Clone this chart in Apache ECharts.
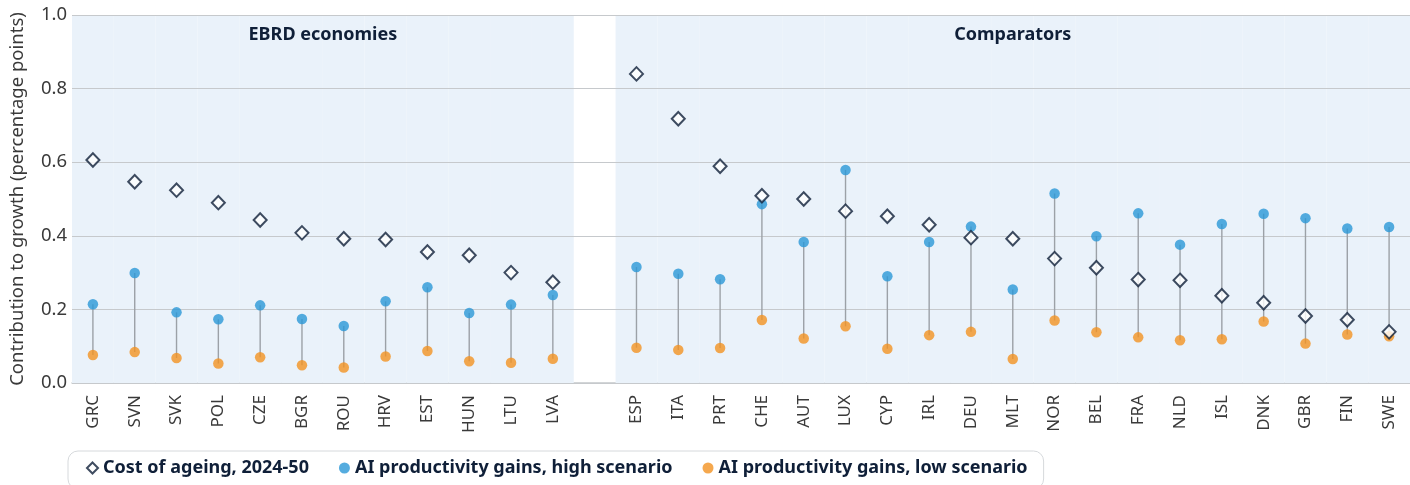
<!DOCTYPE html>
<html>
<head>
<meta charset="utf-8">
<title>Cost of ageing vs AI productivity gains</title>
<script src="https://cdn.jsdelivr.net/npm/echarts@6/dist/echarts.min.js"></script>
<style>
  html, body { margin: 0; padding: 0; background: #fff; }
  #chart { width: 1410px; height: 485px; }
</style>
</head>
<body>
<div id="chart"></div>
<script>
// categories, '' is the gap between the two groups
const countries = ['GRC', 'SVN', 'SVK', 'POL', 'CZE', 'BGR', 'ROU', 'HRV', 'EST', 'HUN', 'LTU', 'LVA', '',
  'ESP', 'ITA', 'PRT', 'CHE', 'AUT', 'LUX', 'CYP', 'IRL', 'DEU', 'MLT', 'NOR', 'BEL', 'FRA', 'NLD', 'ISL', 'DNK', 'GBR', 'FIN', 'SWE']

const costOfAgeing = [0.606, 0.547, 0.524, 0.490, 0.443, 0.408, 0.392, 0.390, 0.356, 0.347, 0.300, 0.274, '-',
  0.840, 0.718, 0.589, 0.509, 0.500, 0.467, 0.453, 0.430, 0.395, 0.392, 0.338, 0.313, 0.281, 0.279, 0.237, 0.218, 0.182, 0.172, 0.139]

const aiHigh = [0.214, 0.299, 0.192, 0.173, 0.211, 0.174, 0.155, 0.222, 0.260, 0.190, 0.213, 0.239, '-',
  0.315, 0.297, 0.282, 0.486, 0.383, 0.579, 0.290, 0.383, 0.425, 0.254, 0.515, 0.399, 0.461, 0.376, 0.432, 0.460, 0.448, 0.420, 0.424]

const aiLow = [0.076, 0.084, 0.068, 0.053, 0.070, 0.048, 0.042, 0.072, 0.087, 0.059, 0.055, 0.066, '-',
  0.096, 0.090, 0.095, 0.171, 0.121, 0.154, 0.093, 0.130, 0.139, 0.065, 0.170, 0.138, 0.124, 0.116, 0.119, 0.167, 0.107, 0.132, 0.127]

const groups = [
  { name: 'EBRD economies', from: 'GRC', to: 'LVA' },
  { name: 'Comparators', from: 'ESP', to: 'SWE' }
]

const yTicks = [0, 0.2, 0.4, 0.6, 0.8, 1.0]

const navy = '#0f1f38'
const blue = '#2a97d7'
const orange = '#f29222'
const textGrey = '#3a3a3a'

// background band per group, gap left empty
const shade = countries.map(c => (c === '' ? '-' : yTicks[yTicks.length - 1]))
const stems = countries.map((c, i) => (c === '' ? null : [i, aiLow[i], aiHigh[i]])).filter(Boolean)

const chart = echarts.init(document.getElementById('chart'))

chart.setOption({
  animation: false,
  textStyle: { fontFamily: 'Noto Sans' },
  grid: { left: 72, right: 0, top: 15, bottom: 102 },
  legend: {
    left: 68,
    top: 451,
    padding: [8, 16, 12, 18],
    borderColor: '#d6d9dc',
    borderWidth: 1,
    borderRadius: 10,
    itemWidth: 11,
    itemHeight: 11,
    itemGap: 30,
    textStyle: { color: navy, fontWeight: 'bold', fontSize: 18, fontFamily: 'Noto Sans' },
    data: [
      { name: 'Cost of ageing, 2024-50', icon: 'diamond' },
      { name: 'AI productivity gains, high scenario', icon: 'circle' },
      { name: 'AI productivity gains, low scenario', icon: 'circle' }
    ]
  },
  xAxis: [
    {
      type: 'category',
      data: countries,
      axisLine: { show: true, lineStyle: { color: '#c4c7ca', width: 1.5 } },
      axisTick: { show: false },
      axisLabel: { rotate: 90, margin: 12, fontSize: 17, color: textGrey, interval: 0 }
    },
    {
      type: 'category',
      data: countries,
      show: false
    }
  ],
  yAxis: {
    type: 'value',
    min: 0,
    max: 1,
    interval: 0.2,
    z: 1,
    name: 'Contribution to growth (percentage points)',
    nameLocation: 'middle',
    nameGap: 45,
    nameTextStyle: { fontSize: 18.5, color: textGrey },
    axisLine: { show: false },
    axisTick: { show: false },
    axisLabel: { fontSize: 18.5, color: textGrey, margin: 5, formatter: v => v.toFixed(1) },
    splitLine: { lineStyle: { color: '#c6c9cc', width: 1.2 } }
  },
  series: [
    {
      type: 'bar',
      xAxisIndex: 1,
      data: shade,
      barWidth: '100%',
      barCategoryGap: 0,
      itemStyle: { color: '#eaf2fa' },
      silent: true,
      z: 0
    },
    {
      type: 'custom',
      data: stems,
      silent: true,
      z: 2,
      renderItem(params, api) {
        const p1 = api.coord([api.value(0), api.value(1)])
        const p2 = api.coord([api.value(0), api.value(2)])
        return {
          type: 'line',
          shape: { x1: p1[0], y1: p1[1], x2: p2[0], y2: p2[1] },
          style: { stroke: '#9ca1a7', lineWidth: 1.4 }
        }
      }
    },
    {
      name: 'AI productivity gains, low scenario',
      type: 'scatter',
      data: aiLow,
      symbol: 'circle',
      symbolSize: 10.5,
      itemStyle: { color: orange },
      z: 3
    },
    {
      name: 'AI productivity gains, high scenario',
      type: 'scatter',
      data: aiHigh,
      symbol: 'circle',
      symbolSize: 10.5,
      itemStyle: { color: blue },
      z: 4
    },
    {
      name: 'Cost of ageing, 2024-50',
      type: 'scatter',
      data: costOfAgeing,
      symbol: 'diamond',
      symbolSize: [13, 13.5],
      itemStyle: { color: '#fff', borderColor: navy, borderWidth: 2 },
      z: 5
    }
  ]
})

// group headings centred over each shaded band
chart.setOption({
  graphic: groups.map(g => {
    const a = chart.convertToPixel({ xAxisIndex: 0 }, g.from)
    const b = chart.convertToPixel({ xAxisIndex: 0 }, g.to)
    return {
      type: 'text',
      z: 100,
      x: (a + b) / 2,
      y: 35,
      style: {
        text: g.name,
        fill: navy,
        fontSize: 18,
        fontWeight: 'bold',
        fontFamily: 'Noto Sans',
        textAlign: 'center',
        textVerticalAlign: 'middle'
      }
    }
  })
})
</script>
</body>
</html>
